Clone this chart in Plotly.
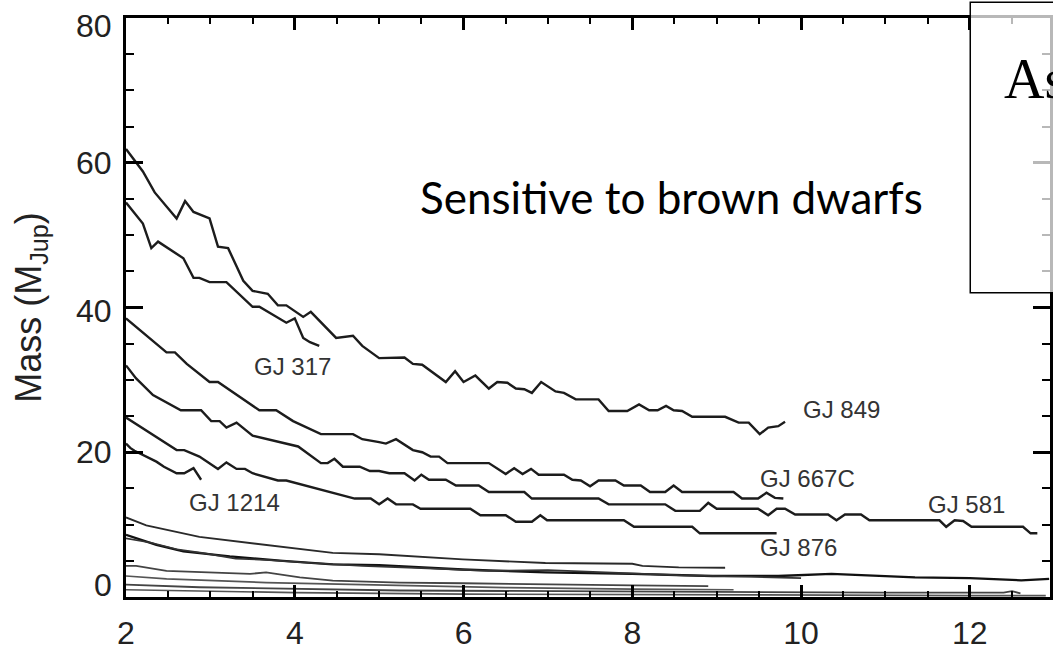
import plotly.graph_objects as go

# ---------------- data ----------------
gj849_x = [2.0,2.2,2.34,2.44,2.6,2.7,2.8,2.99,3.09,3.21,3.39,3.5,3.68,3.8,3.9,4.1,4.19,4.49,4.69,4.8,
           5.0,5.3,5.4,5.51,5.79,5.9,6.0,6.14,6.3,6.4,6.52,6.62,6.72,6.81,6.92,7.09,7.19,7.33,7.6,7.72,
           7.94,8.08,8.2,8.3,8.4,8.49,8.59,8.71,9.1,9.26,9.38,9.51,9.61,9.73,9.81]
gj849_y = [61.9,58.8,55.9,54.5,52.3,54.7,53.2,52.3,48.4,48.2,43.7,42.3,41.9,40.3,40.3,38.7,39.4,35.8,36.1,34.7,
           33.0,33.1,32.2,32.1,29.7,31.2,29.7,30.6,28.8,29.7,29.6,28.8,28.7,28.2,29.7,28.4,28.2,27.3,27.3,25.7,
           25.7,26.6,25.8,25.8,26.4,25.8,25.7,24.9,24.9,24.1,24.1,22.5,23.4,23.6,24.2]

gj317_x = [2.0,2.2,2.3,2.38,2.68,2.8,2.87,2.99,3.19,3.5,3.58,3.9,4.0,4.1,4.18,4.29]
gj317_y = [54.5,51.6,48.2,49.1,46.8,44.1,44.1,43.5,43.5,40.1,40.1,37.9,38.5,35.8,35.2,34.7]

gj667c_x = [2.0,2.48,2.58,2.72,2.99,3.09,3.58,3.78,3.98,4.31,4.69,4.8,5.0,5.08,5.2,5.4,5.51,5.61,5.71,5.81,
            6.3,6.4,6.5,6.6,6.7,6.8,6.89,7.19,7.29,7.39,7.5,7.6,7.8,7.9,8.1,8.21,8.39,8.49,8.59,9.2,
            9.3,9.49,9.59,9.69,9.79]
gj667c_y = [38.5,33.8,33.8,32.2,29.7,29.7,25.8,25.8,24.3,22.5,22.5,21.8,21.4,21.2,21.8,20.3,20.0,19.4,19.4,18.5,
            18.5,17.8,17.0,17.8,17.0,17.7,16.9,16.9,16.2,16.1,15.3,16.1,16.1,15.4,15.4,14.5,14.5,15.4,14.5,14.5,
            13.6,13.6,14.4,13.7,13.6]

gj581_x = [2.0,2.12,2.32,2.65,2.89,3.01,3.11,3.19,3.31,3.5,4.04,4.31,4.39,4.47,4.57,4.77,4.89,5.0,5.12,5.3,
           5.42,5.5,5.59,5.79,5.91,6.18,6.3,6.72,6.81,7.6,7.72,8.39,8.51,8.8,8.9,9.0,9.49,9.61,9.71,9.81,
           9.93,10.32,10.42,10.52,10.71,10.81,11.64,11.72,11.82,11.92,12.02,12.63,12.72,12.8]
gj581_y = [32.0,30.2,27.9,25.8,25.8,24.3,24.3,23.4,24.1,22.3,20.8,18.5,18.5,19.1,18.0,18.0,17.4,17.4,17.1,17.1,
           16.1,16.9,16.2,16.2,15.4,15.4,14.5,14.5,13.6,13.6,12.8,12.8,11.9,11.9,13.0,12.2,12.2,11.3,12.2,12.2,
           11.4,11.4,10.6,11.4,11.4,10.6,10.6,9.7,10.6,10.5,9.7,9.7,8.8,8.8]

gj876_x = [2.0,2.24,2.6,2.69,2.87,3.09,3.19,3.31,3.41,3.5,3.8,3.9,4.41,4.71,4.9,5.0,5.1,5.2,5.4,5.49,
           6.08,6.2,6.5,6.62,6.81,6.91,6.99,7.9,8.02,8.71,8.8,9.71]
gj876_y = [24.8,23.0,20.3,20.3,19.4,17.7,18.6,17.7,17.7,17.1,16.1,16.1,14.5,13.6,13.6,12.8,13.6,12.8,12.8,12.2,
           12.2,11.3,11.3,10.4,10.4,11.3,10.6,10.6,9.7,9.7,8.8,8.8]

gj1214_x = [2.0,2.05,2.1,2.2,2.36,2.45,2.6,2.69,2.8,2.89]
gj1214_y = [21.2,20.6,20.2,19.6,18.7,18.0,17.1,17.1,17.8,16.2]

low1_x = [2.0,2.12,2.24,2.87,3.66,4.45,5.0,5.99,6.97,8.0,8.12,8.55,9.1]
low1_y = [11.0,10.4,9.9,8.3,7.2,6.1,5.9,5.2,4.7,4.6,4.3,4.1,4.05]
low2_x = [2.0,2.36,2.68,3.23,3.86,4.45,5.0,5.99,6.97,8.0,8.95,9.73,10.36,11.35,12.0,12.61,12.94]
low2_y = [8.6,7.2,6.3,5.6,5.0,4.5,4.4,3.8,3.4,3.2,2.9,2.9,3.2,2.7,2.6,2.3,2.5]
low3_x = [2.0,2.3,2.6,2.9,3.3,3.7,4.2,4.8,5.5,6.3,7.0,7.8,8.6,9.4,10.0]
low3_y = [8.1,7.5,6.6,6.1,5.3,5.1,4.7,4.3,4.0,3.6,3.7,3.3,3.0,2.8,2.6]
low4_x = [2.0,2.12,2.48,3.47,3.66,4.06,4.45,5.24,6.0,7.0,8.0,8.9]
low4_y = [4.3,4.3,3.6,3.2,3.4,2.7,2.25,2.0,1.9,1.7,1.6,1.5]
low5_x = [2.0,2.48,3.66,5.24,6.5,8.0,9.2]
low5_y = [2.9,2.5,2.0,1.6,1.3,1.1,1.0]
low6_x = [2.0,2.87,5.24,7.0,9.0,11.0,12.4,12.5,12.6]
low6_y = [1.7,1.35,0.9,0.8,0.7,0.6,0.6,0.8,0.5]
low7_x = [2.0,4.0,6.0,8.0,10.0,12.0,12.9]
low7_y = [1.0,0.6,0.4,0.3,0.3,0.2,0.2]

labels = ["GJ 317", "GJ 1214", "GJ 849", "GJ 667C", "GJ 581", "GJ 876"]
label_x = [3.97, 3.29, 10.48, 10.08, 11.96, 9.97]
label_y = [31.9, 13.0, 25.9, 16.4, 12.8, 6.9]

x_tickvals = [2, 4, 6, 8, 10, 12]
y_tickvals = [0, 20, 40, 60, 80]
y_ticktext = ["0", "20", "40", "60", "80"]
# the end labels of the y axis sit inside the frame in the reference (pixel nudge)
y_label_nudge = [12, 0, -3, 0, -8]

# ---------------- figure ----------------
fig = go.Figure()

main = [(gj849_x, gj849_y), (gj317_x, gj317_y), (gj667c_x, gj667c_y),
        (gj581_x, gj581_y), (gj876_x, gj876_y), (gj1214_x, gj1214_y)]
for xs, ys in main:
    fig.add_trace(go.Scatter(x=xs, y=ys, mode="lines",
                             line=dict(color="#1c1c1c", width=2.4), showlegend=False))

low = [(low1_x, low1_y, "#2a2a2a", 1.9), (low2_x, low2_y, "#111111", 2.3),
       (low3_x, low3_y, "#333333", 1.7), (low4_x, low4_y, "#444444", 1.8),
       (low5_x, low5_y, "#555555", 1.7), (low6_x, low6_y, "#444444", 1.8),
       (low7_x, low7_y, "#555555", 1.7)]
for xs, ys, c, w in low:
    fig.add_trace(go.Scatter(x=xs, y=ys, mode="lines",
                             line=dict(color=c, width=w), showlegend=False))

sans = "Liberation Sans, Arial, sans-serif"
tickfont = dict(family=sans, size=32, color="#222222")

fig.update_xaxes(range=[2, 12.95], tickvals=x_tickvals, ticks="inside", ticklen=12, tickwidth=2.5,
                 tickcolor="black", showline=True, linecolor="black", linewidth=3, mirror="ticks",
                 showgrid=False, zeroline=False, tickfont=tickfont, ticklabelstandoff=6,
                 minor=dict(dtick=0.5, ticks="inside", ticklen=6, tickwidth=2, tickcolor="black",
                            showgrid=False))
fig.update_yaxes(range=[0, 80], tickvals=y_tickvals, ticks="inside", ticklen=17, tickwidth=2.5,
                 tickcolor="black", showline=True, linecolor="black", linewidth=3, mirror="ticks",
                 showgrid=False, zeroline=False, showticklabels=False,
                 minor=dict(dtick=5, ticks="inside", ticklen=8, tickwidth=2, tickcolor="black",
                            showgrid=False))

# y tick labels (placed on the y scale, nudged like the reference)
for v, t, dy in zip(y_tickvals, y_ticktext, y_label_nudge):
    fig.add_annotation(xref="paper", yref="y", x=0, y=v, text=t, showarrow=False,
                       xanchor="right", yanchor="middle", xshift=-12, yshift=dy, font=tickfont)

for t, lx, ly in zip(labels, label_x, label_y):
    fig.add_annotation(x=lx, y=ly, text=t, showarrow=False, xanchor="center", yanchor="middle",
                       font=dict(family=sans, size=24, color="#333333"))

# y axis title
fig.add_annotation(xref="paper", yref="paper", x=(30 - 126) / 927, y=0.50,
                   text="Mass (M<sub>Jup</sub>)", textangle=-90, showarrow=False,
                   xanchor="center", yanchor="middle",
                   font=dict(family=sans, size=36, color="#222222"))

# overlay text
fig.add_annotation(xref="paper", yref="paper", x=(419 - 126) / 927, y=(610 - 201) / 592,
                   text="Sensitive to brown dwarfs", showarrow=False, xanchor="left", yanchor="middle",
                   font=dict(family="Lato, 'Open Sans', sans-serif", size=44, color="black"))

# semi-transparent text box on the right
fig.add_shape(type="rect", xref="paper", yref="paper",
              x0=(973 - 126) / 927, x1=1.2, y0=(610 - 299) / 592, y1=(610 - 2) / 592,
              line=dict(color="black", width=1.5), fillcolor="rgba(255,255,255,0.72)", layer="above")
fig.add_annotation(xref="paper", yref="paper", x=(1005 - 126) / 927, y=(610 - 80) / 592,
                   text="Astrometry", showarrow=False, xanchor="left", yanchor="middle",
                   font=dict(family="Liberation Serif, 'DejaVu Serif', serif", size=56, color="black"))

fig.update_layout(width=1053, height=651, autosize=False,
                  margin=dict(l=126, r=0, t=18, b=41),
                  plot_bgcolor="white", paper_bgcolor="white", showlegend=False)

fig.write_html("out.html")
